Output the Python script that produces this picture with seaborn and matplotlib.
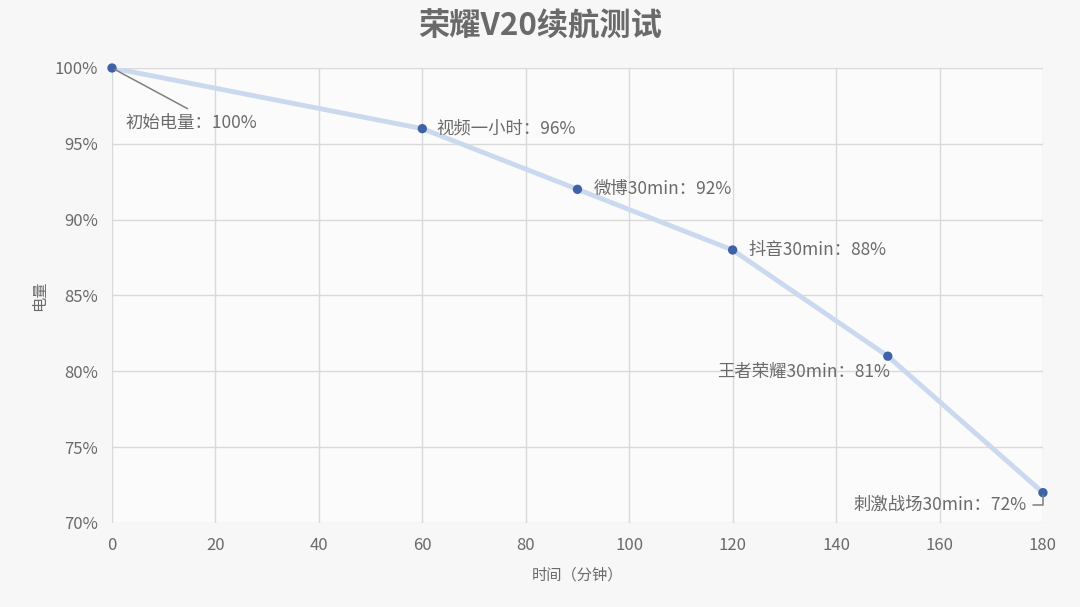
import numpy as np
import pandas as pd
import matplotlib
matplotlib.use("Agg")
import matplotlib.pyplot as plt
import seaborn as sns
from matplotlib.ticker import FuncFormatter

minutes = [0, 60, 90, 120, 150, 180]
battery = [100, 96, 92, 88, 81, 72]
labels = ["初始电量：100%", "视频一小时：96%", "微博30min：92%",
          "抖音30min：88%", "王者荣耀30min：81%", "刺激战场30min：72%"]

df = pd.DataFrame({"时间": minutes, "电量": battery})

sns.set_theme(style="whitegrid")
plt.rcParams['font.family'] = ['Noto Sans CJK SC', 'DejaVu Sans']

bg = "#f7f7f7"
grey = "#6a6a6a"
fig = plt.figure(figsize=(10.8, 6.07), dpi=100, facecolor=bg)
ax = fig.add_axes([0.1037, 0.1384, 0.862, 0.7496])
ax.set_facecolor("#fbfbfb")

sns.lineplot(data=df, x="时间", y="电量", ax=ax, color="#cbd9ef",
             linewidth=3.5, zorder=2)
sns.scatterplot(data=df, x="时间", y="电量", ax=ax, color="#3e62a6",
                s=45, edgecolor="none", zorder=3, clip_on=False)

# label offsets in pixels: (dx, dy, ha)
offs = [(13, -55, "left"), (14, 0, "left"), (16, 0, "left"),
        (16, 0, "left"), (2, -16, "right"), (-16, -12, "right")]
for x, y, t, (dx, dy, ha) in zip(minutes, battery, labels, offs):
    ax.annotate(t, (x, y), xytext=(dx, dy), textcoords="offset pixels",
                ha=ha, va="center", fontsize=12.5, color=grey, zorder=4)

# leader lines
ax.annotate("", (minutes[0], battery[0]), xytext=(78, -42),
            textcoords="offset pixels",
            arrowprops=dict(arrowstyle="-", color="#7f7f7f", lw=1.1))
ax.annotate("", (minutes[-1], battery[-1]), xytext=(-13, -12),
            textcoords="offset pixels",
            arrowprops=dict(arrowstyle="-", color="#7f7f7f", lw=1.1,
                            connectionstyle="angle,angleA=0,angleB=90,rad=0"))

ax.set_xlim(0, 180)
ax.set_ylim(70, 100)
ax.set_xticks(range(0, 181, 20))
ax.set_yticks(range(70, 101, 5))
ax.yaxis.set_major_formatter(FuncFormatter(lambda v, p: f"{v:.0f}%"))
ax.grid(True, color="#d9d9d9", linewidth=1)
for s in ax.spines.values():
    s.set_visible(False)
ax.tick_params(axis="both", colors=grey, labelsize=12, length=0, pad=10)

ax.set_xlabel("时间（分钟）", fontsize=11, color=grey, labelpad=9)
ax.set_ylabel("电量", fontsize=11, color=grey, labelpad=5)
fig.suptitle("荣耀V20续航测试", x=0.5, y=0.982, fontsize=22.5,
             fontweight="bold", color=grey)

fig.savefig("out.png", dpi=100, facecolor=bg)
